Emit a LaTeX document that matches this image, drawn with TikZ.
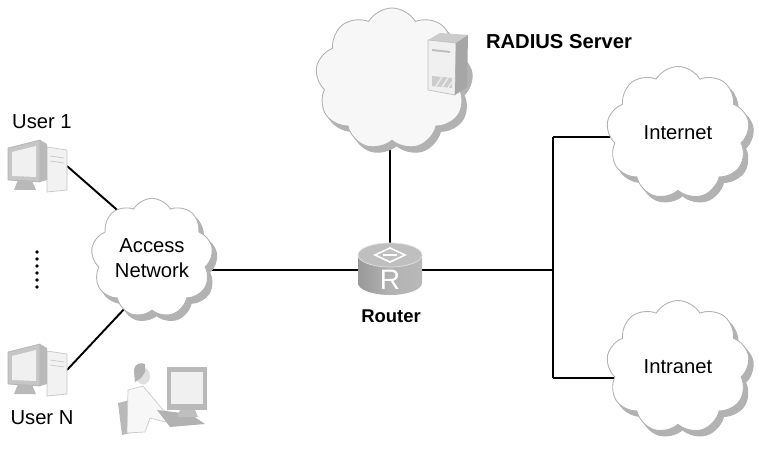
\documentclass[tikz,border=0pt]{standalone}
\usepackage{fontspec}
\setmainfont{Liberation Sans}
\usetikzlibrary{positioning,shapes.symbols,backgrounds}

\tikzset{
  netcloud/.style={cloud, cloud puffs=9, cloud puff arc=120, draw=gray!60, fill=white,
    line width=0.5pt, align=center, inner sep=0pt,
    preaction={fill=gray!60, draw=gray!60, transform canvas={xshift=0.9mm, yshift=-1.1mm}},
    font=\fontsize{11.5}{14}\selectfont},
  link/.style={line width=1.1pt, black},
  lbl/.style={font=\fontsize{11.5}{14}\selectfont},
  boldlbl/.style={font=\bfseries\fontsize{11.5}{14}\selectfont},
  routerbox/.style={minimum width=12.8mm, minimum height=10.4mm, inner sep=0pt},
  % desktop PC, origin at the middle of the icon
  pc/.pic={
    \filldraw[fill=gray!10, draw=gray!45] (9,-21) -- (29,-18) -- (29,22) -- (9,24) -- cycle;
    \draw[gray!45] (12,-12) -- (26,-10) (12,-7) -- (26,-5);
    \fill[gray!55] (2,-28) -- (9,-24) -- (9,12) -- (2,14) -- cycle;
    \filldraw[fill=gray!45, draw=gray!60] (-30,-20) -- (2,-28) -- (2,14) -- (-30,12) -- cycle;
    \fill[gray!12] (-26,-16) -- (-2,-22) -- (-2,9) -- (-26,8) -- cycle;
    \fill[gray!55] (-20,12) -- (-6,13) -- (-2,22) -- (-24,22) -- cycle;
    \coordinate (-port) at (29,-2);
  },
  % rack server box
  server/.pic={
    \fill[gray!40] (-20,-25) -- (-8,-32) -- (20,-30) -- (8,-22) -- cycle;
    \filldraw[fill=gray!12, draw=gray!50] (-20,-25) -- (8,-22) -- (7,30) -- (-20,25) -- cycle;
    \fill[gray!70] (8,-22) -- (20,-30) -- (19,22) -- (7,30) -- cycle;
    \fill[gray!50] (-16,-16) -- (2,-14) -- (2,-12) -- (-16,-14) -- cycle;
    \fill[gray!40] (-16,11) -- (4,13) -- (4,23) -- (-16,21) -- cycle;
    \draw[gray!15, line width=0.8pt] (-12,21) -- (-6,12) (-6,22) -- (0,13) (0,23) -- (4,17);
  },
  % operator at a workstation
  operator/.pic={
    \fill[gray!55] (-47,3) -- (-35,0) -- (-30,32) -- (-43,35) -- cycle;
    \filldraw[fill=gray!6, draw=gray!40] (-37,-10) -- (-22,-14) -- (-12,-2) -- (-2,10)
      -- (5,14) -- (0,22) -- (-15,18) -- (-20,32) -- (-38,33) -- cycle;
    \fill[gray!60] (-8,10) -- (25,14) -- (40,24) -- (5,27) -- cycle;
    \fill[gray!25] (-22,-24) ellipse [x radius=1.4mm, y radius=1.7mm];
    \fill[gray!60] (-30,-18) -- (-31,-28) arc[start angle=190, end angle=60, radius=1.5mm]
      -- (-20,-28) -- (-24,-22) -- cycle;
    \fill[gray!55] (2,-33) rectangle (42,10);
    \fill[gray!12] (6,-28) rectangle (38,4);
    \fill[gray!50] (15,10) -- (30,10) -- (33,17) -- (12,17) -- cycle;
  },
}

\begin{document}
\begin{tikzpicture}[x=0.2mm, y=-0.2mm]
  \useasboundingbox (0,0) rectangle (759,463);

  % clouds
  \node[netcloud, fill=gray!6, minimum width=30.6mm, minimum height=28.4mm] (radius) at (392,79) {};
  \node[netcloud, minimum width=24.4mm, minimum height=23.6mm] (access) at (152,258) {Access\\Network};
  \node[netcloud, minimum width=28.6mm, minimum height=26.6mm] (internet) at (678,133) {Internet};
  \node[netcloud, minimum width=28.6mm, minimum height=26.6mm] (intranet) at (678,367) {Intranet};

  % router
  \node[routerbox] (router) at (390,270) {};
  \begin{scope}[shift={(router.center)}]
    \shade[left color=gray!80, right color=gray!55, middle color=gray!60]
      (-32,-15) -- (-32,13) arc[start angle=180, end angle=360, x radius=6.4mm, y radius=2.4mm]
      -- (32,-15) -- cycle;
    \filldraw[fill=gray!50, draw=gray!25] (0,-15) ellipse [x radius=6.4mm, y radius=2.4mm];
    \draw[white, line width=0.9pt] (-15,-15) -- (0,-22) -- (15,-15) -- (0,-8) -- cycle;
    \draw[white, line width=0.9pt] (-7,-15) -- (7,-15);
    \node[text=white, font=\fontsize{16}{16}\selectfont, inner sep=0pt] (rlogo) at (0,10) {R};
  \end{scope}
  \node[boldlbl, font=\bfseries\fontsize{10.5}{12}\selectfont] (routerlbl) at (391,316) {Router};

  % hosts
  \pic (pc1) at (38,168) {pc};
  \pic (pcN) at (38,372) {pc};
  \pic (srv) at (448,65) {server};
  \pic (admin) at (165,400) {operator};
  \node[lbl] (user1) at (42,122) {User 1};
  \node[lbl] (userN) at (42,418) {User N};
  \node[boldlbl] (srvlbl) at (559,42) {RADIUS Server};

  \foreach \k in {0,...,5}
    \fill (37,252+7*\k) circle (1.1pt);

  % links
  \coordinate (bustop) at (553,137);
  \coordinate (busbot) at (553,378);
  \begin{scope}[on background layer]
    \draw[link] (pc1-port) -- ([xshift=4mm]access.center);
    \draw[link] (pcN-port) -- ([xshift=4mm]access.center);
    \draw[link] (router.west) -- (router.west -| access.center);
    \draw[link] (router.north) -- (router.north |- radius.center);
    \draw[link] (router.east) -- (router.east -| bustop);
    \draw[link] (bustop) -- (busbot);
    \draw[link] (bustop) -- (bustop -| internet.center);
    \draw[link] (busbot) -- (busbot -| intranet.center);
  \end{scope}
\end{tikzpicture}
\end{document}
